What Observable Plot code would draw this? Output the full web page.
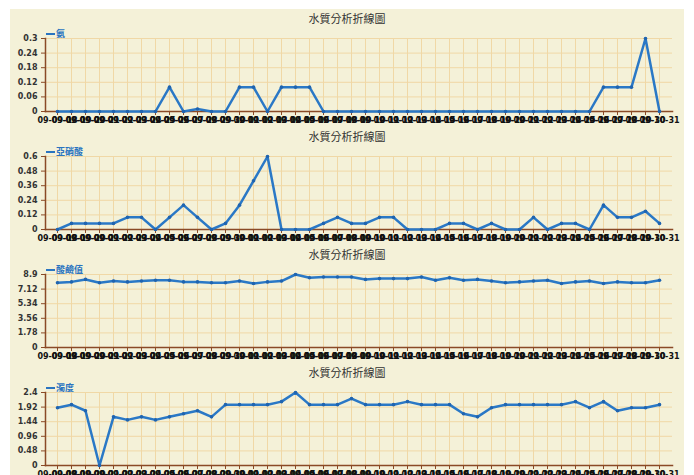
<!DOCTYPE html>
<html>
<head>
<meta charset="utf-8">
<script src="https://cdn.jsdelivr.net/npm/d3@7"></script>
<script src="https://cdn.jsdelivr.net/npm/@observablehq/plot@0.6"></script>
<style>
  html, body { margin: 0; padding: 0; background: #ffffff; overflow: hidden; }
  #wrap { position: relative; width: 694px; height: 475px; background: #ffffff; overflow: hidden; }
  #bg { position: absolute; left: 10px; top: 9px; width: 674px; height: 470px; background: #f4f1d8; }
  .title { position: absolute; left: 0; width: 694px; text-align: center; font-family: "Noto Sans CJK TC", sans-serif; font-size: 11px; color: #333; }
  .legend { position: absolute; left: 46px; font-family: "Noto Sans CJK TC", sans-serif; font-size: 9px; font-weight: bold; color: #2a74c0; display: flex; align-items: center; }
  .legend span.ln { display: inline-block; width: 9px; height: 2px; background: #2a74c0; margin-right: 1px; }
  .panel { position: absolute; left: 0; }
</style>
</head>
<body>
<div id="wrap"><div id="bg"></div></div>
<script>
const dates = [
  "09-09-18","09-09-19","09-09-20","09-09-21","09-09-22","09-09-23","09-09-24","09-09-25","09-09-26","09-09-27",
  "09-09-28","09-09-29","09-09-30","09-10-01","09-10-02","09-10-03","09-10-04","09-10-05","09-10-06","09-10-07",
  "09-10-08","09-10-09","09-10-10","09-10-11","09-10-12","09-10-13","09-10-14","09-10-15","09-10-16","09-10-17",
  "09-10-18","09-10-19","09-10-20","09-10-21","09-10-22","09-10-23","09-10-24","09-10-25","09-10-26","09-10-27",
  "09-10-28","09-10-29","09-10-30","09-10-31"
];

const title = "水質分析折線圖";
const seriesNames = ["氨", "亞硝酸", "酸鹼值", "濁度"];

const ammonia = [0,0,0,0,0,0,0,0,0.1,0,0.01,0,0,0.1,0.1,0,0.1,0.1,0.1,0,0,0,0,0,0,0,0,0,0,0,0,0,0,0,0,0,0,0,0,0.1,0.1,0.1,0.3,0];
const nitrite = [0,0.05,0.05,0.05,0.05,0.1,0.1,0,0.1,0.2,0.1,0,0.05,0.2,0.4,0.6,0,0,0,0.05,0.1,0.05,0.05,0.1,0.1,0,0,0,0.05,0.05,0,0.05,0,0,0.1,0,0.05,0.05,0,0.2,0.1,0.1,0.15,0.05];
const ph = [7.9,8.0,8.3,7.9,8.1,8.0,8.1,8.2,8.2,8.0,8.0,7.9,7.9,8.1,7.8,8.0,8.1,8.9,8.5,8.6,8.6,8.6,8.3,8.4,8.4,8.4,8.6,8.2,8.5,8.2,8.3,8.1,7.9,8.0,8.1,8.2,7.8,8.0,8.1,7.8,8.0,7.9,7.9,8.2];
const turbidity = [1.9,2.0,1.8,0,1.6,1.5,1.6,1.5,1.6,1.7,1.8,1.6,2.0,2.0,2.0,2.0,2.1,2.4,2.0,2.0,2.0,2.2,2.0,2.0,2.0,2.1,2.0,2.0,2.0,1.7,1.6,1.9,2.0,2.0,2.0,2.0,2.0,2.1,1.9,2.1,1.8,1.9,1.9,2.0];

const ticksAmmonia = [0, 0.06, 0.12, 0.18, 0.24, 0.3];
const ticksNitrite = [0, 0.12, 0.24, 0.36, 0.48, 0.6];
const ticksPh = [0, 1.78, 3.56, 5.34, 7.12, 8.9];
const ticksTurbidity = [0, 0.48, 0.96, 1.44, 1.92, 2.4];

const seriesValues = [ammonia, nitrite, ph, turbidity];
const seriesTicks = [ticksAmmonia, ticksNitrite, ticksPh, ticksTurbidity];

const panelTops = [9, 127, 245, 363];
const blue = "#2a78c6";
const brown = "#8a4a26";
const grid = "#f0d8a6";

const wrap = document.getElementById("wrap");

seriesValues.forEach((vals, k) => {
  const top = panelTops[k];
  const ticks = seriesTicks[k];
  const data = vals.map((v, i) => ({date: dates[i], value: v}));

  const t = document.createElement("div");
  t.className = "title";
  t.style.top = (top + 1) + "px";
  t.textContent = title;
  wrap.appendChild(t);

  const lg = document.createElement("div");
  lg.className = "legend";
  lg.style.top = (top + 18) + "px";
  lg.innerHTML = '<span class="ln"></span>';
  lg.appendChild(document.createTextNode(seriesNames[k]));
  wrap.appendChild(lg);

  const chart = Plot.plot({
    width: 694,
    height: 102,
    marginTop: 13,
    marginBottom: 16,
    marginLeft: 45,
    marginRight: 22,
    style: {background: "transparent", fontFamily: "DejaVu Sans, sans-serif", fontSize: "8px", overflow: "visible"},
    x: {type: "point", domain: dates, range: [52.7, 664], padding: 0},
    y: {domain: [0, ticks[ticks.length - 1]], ticks: ticks},
    marks: [
      Plot.gridX(dates, {stroke: grid, strokeOpacity: 1}),
      Plot.gridY(ticks, {stroke: grid, strokeOpacity: 1}),
      Plot.axisX({tickSize: 4, tickPadding: 2, stroke: brown, fill: "#111", fontWeight: "bold", fontSize: 8, label: null}),
      Plot.axisY({ticks: ticks, tickSize: 4, tickPadding: 4, stroke: brown, fill: "#333", fontWeight: "bold", fontSize: 8, label: null, tickFormat: d => String(d)}),
      Plot.frame({anchor: "left", stroke: brown, strokeWidth: 1.5}),
      Plot.frame({anchor: "bottom", stroke: brown, strokeWidth: 1.5}),
      Plot.line(data, {x: "date", y: "value", stroke: blue, strokeWidth: 2.5}),
      Plot.dot(data, {x: "date", y: "value", r: 1.8, fill: "#1f64b0"})
    ]
  });
  chart.classList.add("panel");
  chart.style.top = (top + 16) + "px";
  chart.style.position = "absolute";
  wrap.appendChild(chart);
});
</script>
</body>
</html>
